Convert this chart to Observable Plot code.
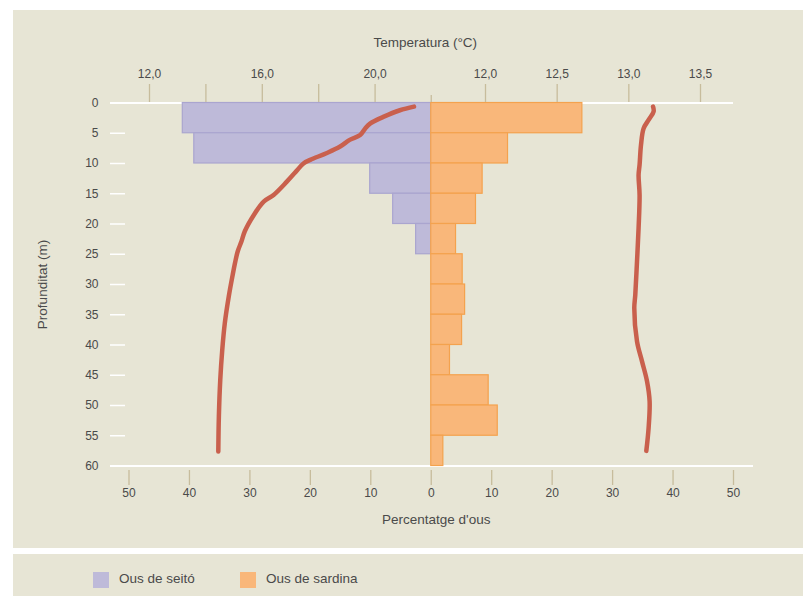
<!DOCTYPE html>
<html><head><meta charset="utf-8">
<script src="https://cdn.jsdelivr.net/npm/d3@7"></script>
<script src="https://cdn.jsdelivr.net/npm/@observablehq/plot@0.6"></script>
<style>
html,body{margin:0;padding:0;background:#fff;}
#wrap{position:relative;width:803px;height:596px;overflow:hidden;font-family:"Liberation Sans",Arial,sans-serif;color:#4a4a4a;}
.panel{position:absolute;background:#e7e5d5;}
.layer{position:absolute;left:0;top:0;}
.sw{position:absolute;width:16px;height:16px;}
.lt{position:absolute;font-size:13.5px;line-height:16px;white-space:nowrap;}
</style></head>
<body>
<div id="wrap">
  <div class="panel" style="left:13px;top:10px;width:790px;height:538px;"></div>
  <div class="panel" style="left:13px;top:554px;width:790px;height:42px;"></div>
  <div id="main" class="layer"></div>
  <div id="tA" class="layer"></div>
  <div id="tB" class="layer"></div>
  <div id="legend"></div>
</div>
<script>
// ---- data ----
const depthBins = [0, 5, 10, 15, 20, 25, 30, 35, 40, 45, 50, 55];
const binSize = 5;
const seito   = [41.1, 39.2, 10.1, 6.3, 2.5, 0, 0, 0, 0, 0, 0, 0];
const sardina = [25.0, 12.7, 8.5, 7.4, 4.1, 5.2, 5.6, 5.1, 3.1, 9.5, 11.0, 2.0];

const tempDepthA = [0.6, 1.2, 2.3, 3.4, 4.2, 5.3, 6.1, 7.2, 8.3, 9.4, 10.0, 11.3, 13.0, 15.2, 16.3, 18.5, 21.2, 22.9, 24.5, 26.5, 28.4, 32.0, 36.4, 40.8, 45.7, 51.8, 57.6];
const tempA      = [21.38, 20.88, 20.29, 19.82, 19.65, 19.47, 19.10, 18.76, 18.27, 17.70, 17.46, 17.20, 16.87, 16.40, 16.05, 15.70, 15.38, 15.26, 15.13, 15.03, 14.95, 14.81, 14.67, 14.58, 14.51, 14.46, 14.44];

const tempDepthB = [0.6, 1.4, 2.8, 4.2, 6.9, 10.2, 11.9, 15.2, 20.7, 26.2, 31.7, 33.9, 39.4, 42.7, 46.0, 49.3, 53.7, 57.5];
const tempB      = [13.169, 13.173, 13.138, 13.103, 13.085, 13.075, 13.068, 13.075, 13.068, 13.057, 13.045, 13.038, 13.057, 13.092, 13.127, 13.145, 13.138, 13.122];

const pctTicks = [-50, -40, -30, -20, -10, 0, 10, 20, 30, 40, 50];
const depthTicks = [0, 5, 10, 15, 20, 25, 30, 35, 40, 45, 50, 55, 60];
const tempTicksA = [12, 14, 16, 18, 20];
const tempLabelsA = [12, 16, 20];
const tempTicksB = [12, 12.5, 13, 13.5];

const seriesNames = ["Ous de seitó", "Ous de sardina"];
const titleTemp = "Temperatura (°C)";
const titleDepth = "Profunditat (m)";
const titlePct = "Percentatge d'ous";

// ---- styling ----
const fills = ["#bebad9", "#f9b77a"];
const strokes = ["#aaa5cf", "#f4a24e"];
const tan = "#c7bc9c";
const red = "#c9604d";
const W = 803, H = 548, MT = 102.5, MB = 82.5;
const baseStyle = {background: "transparent", overflow: "visible", fontFamily: "'Liberation Sans', Arial, sans-serif", fontSize: "12px", color: "#4a4a4a"};
const fmtC = d => d3.format(".1f")(d).replace(".", ",");

const seitoRows = depthBins.map((d, i) => ({d0: d, d1: d + binSize, v: -seito[i]})).filter(r => r.v !== 0);
const sardRows = depthBins.map((d, i) => ({d0: d, d1: d + binSize, v: sardina[i]})).filter(r => r.v !== 0);

const main = Plot.plot({
  width: W, height: H, marginLeft: 128.5, marginRight: 70, marginTop: MT, marginBottom: MB,
  style: baseStyle,
  x: {domain: [-50, 50]},
  y: {domain: [0, 60], reverse: true},
  marks: [
    Plot.ruleY([0], {stroke: "white", strokeWidth: 2, insetLeft: -18.5}),
    Plot.ruleY([60], {stroke: "white", strokeWidth: 2, insetLeft: -18.5, insetRight: -20}),
    Plot.rect(seitoRows, {x1: 0, x2: "v", y1: "d0", y2: "d1", fill: fills[0], stroke: strokes[0], strokeWidth: 1.2}),
    Plot.rect(sardRows, {x1: 0, x2: "v", y1: "d0", y2: "d1", fill: fills[1], stroke: strokes[1], strokeWidth: 1.2}),
    Plot.axisY({ticks: depthTicks, tickSize: 15, dx: -3.5, tickPadding: 12, stroke: "white", strokeWidth: 1.5, label: null}),
    Plot.axisX({anchor: "bottom", ticks: pctTicks, tickSize: 15, dy: 4.5, tickPadding: 3, tickFormat: d => Math.abs(d), stroke: tan, strokeWidth: 1.3, label: null}),
    Plot.axisX({anchor: "top", ticks: [0], tickSize: 7, dy: -1.5, tickFormat: () => "", stroke: tan, strokeWidth: 1.3, label: null}),
    Plot.text([titleDepth], {text: d => d, frameAnchor: "left", rotate: -90, dx: -86.5, textAnchor: "middle", lineAnchor: "middle", fontSize: 13.5}),
    Plot.text([titlePct], {text: d => d, frameAnchor: "bottom", dx: 5, dy: 53.5, textAnchor: "middle", lineAnchor: "middle", fontSize: 13.5}),
    Plot.text([titleTemp], {text: d => d, frameAnchor: "top", dx: -6, dy: -60.5, textAnchor: "middle", lineAnchor: "middle", fontSize: 13.5})
  ]
});
document.getElementById("main").appendChild(main);

function tempPlot(domain, mL, mR, ticks, fmt, depths, temps) {
  const rows = depths.map((d, i) => ({depth: d, temp: temps[i]}));
  return Plot.plot({
    width: W, height: H, marginLeft: mL, marginRight: mR, marginTop: MT, marginBottom: MB,
    style: baseStyle,
    x: {domain},
    y: {domain: [0, 60], reverse: true, axis: null},
    marks: [
      Plot.axisX({anchor: "top", ticks, tickSize: 18, dy: -1.5, tickPadding: 6, tickFormat: fmt, stroke: tan, strokeWidth: 1.3, label: null}),
      Plot.line(rows, {x: "temp", y: "depth", stroke: red, strokeWidth: 4.5, curve: "catmull-rom", strokeLinecap: "round", strokeLinejoin: "round"})
    ]
  });
}
document.getElementById("tA").appendChild(
  tempPlot([12, 22], 149, W - 431, tempTicksA, d => tempLabelsA.includes(d) ? fmtC(d) : "", tempDepthA, tempA));
document.getElementById("tB").appendChild(
  tempPlot([12, 13.5], 485, W - 700, tempTicksB, fmtC, tempDepthB, tempB));

// legend
const lg = document.getElementById("legend");
const legPos = [93, 240];
seriesNames.forEach((name, i) => {
  const s = document.createElement("div");
  s.className = "sw"; s.style.left = legPos[i] + "px"; s.style.top = "572px"; s.style.background = fills[i];
  const t = document.createElement("div");
  t.className = "lt"; t.style.left = (legPos[i] + 26) + "px"; t.style.top = "571px"; t.textContent = name;
  lg.appendChild(s); lg.appendChild(t);
});
</script>
</body></html>
